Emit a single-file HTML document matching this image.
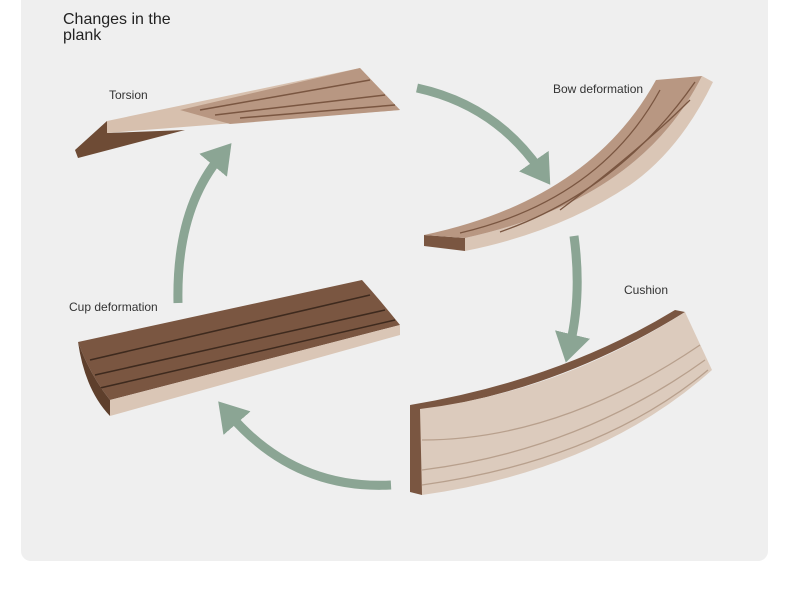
<!DOCTYPE html>
<html><head><style>
body{margin:0;background:#fff;width:790px;height:589px;overflow:hidden;font-family:"Liberation Sans",sans-serif}
.panel{position:absolute;left:21px;top:-10px;width:747px;height:571px;background:#efefef;border-radius:10px}
.t{position:absolute;color:#333;font-size:12px}
</style></head><body>
<div class="panel"></div>
<div class="t" style="left:63px;top:12px;font-size:16px;line-height:16px;color:#222">Changes in the<br>plank</div>
<div class="t" style="left:109px;top:88px">Torsion</div>
<div class="t" style="left:553px;top:82px">Bow deformation</div>
<div class="t" style="left:624px;top:283px">Cushion</div>
<div class="t" style="left:69px;top:300px">Cup deformation</div>
<svg width="790" height="589" style="position:absolute;left:0;top:0">
<defs><marker id="h" markerWidth="4" markerHeight="4" refX="1.2" refY="2" orient="auto" markerUnits="strokeWidth"><path d="M0,0 L3.2,2 L0,4Z" fill="#8ba594"/></marker></defs>
<g fill="none" stroke="#8ba594" stroke-width="9" marker-end="url(#h)">
<path d="M417,88 Q495,105 540,170"/>
<path d="M574,236 Q582,295 570,345"/>
<path d="M391,485 Q295,490 230,415"/>
<path d="M178,303 Q176,210 220,157"/>
</g>
<path d="M75,150 L107,121 L107,133 L185,130 L78,158Z" fill="#6e4b35"/>
<path d="M107,121 L360,68 L400,110 L107,133Z" fill="#d7c0ae"/>
<path d="M180,110 L360,68 L400,110 L230,124Z" fill="#b89782"/>
<g stroke="#7a5641" stroke-width="1.5" fill="none"><path d="M200,110 L370,80"/><path d="M215,115 L385,95"/><path d="M240,118 L395,105"/></g>
<path d="M424,235 L465,238 L465,251 L424,246Z" fill="#7a5641"/>
<path d="M465,238 Q640,200 702,76 L713,82 Q680,150 630,185 Q560,232 465,251Z" fill="#dac6b6"/>
<path d="M424,235 Q590,200 656,80 L702,76 Q640,200 465,238Z" fill="#b89782"/>
<g stroke="#7a5641" stroke-width="1.3" fill="none"><path d="M460,233 Q600,200 660,90"/><path d="M500,232 Q620,190 695,82"/><path d="M560,210 Q640,150 690,100"/></g>
<path d="M410,405 L422,407 L422,495 L410,492Z" fill="#7a5641"/>
<path d="M410,405 Q560,380 675,310 L685,312 Q560,390 420,410Z" fill="#7a5641"/>
<path d="M420,409 Q560,392 685,312 L712,370 Q600,470 422,495Z" fill="#dccbbd"/>
<g stroke="#b8a08d" stroke-width="1.3" fill="none"><path d="M422,440 Q560,440 700,345"/><path d="M422,470 Q580,450 705,360"/><path d="M422,485 Q600,460 708,370"/></g>
<path d="M78,342 L362,280 Q380,300 400,325 L110,400 Q90,375 78,342Z" fill="#7a5641"/>
<g stroke="#3e2a1e" stroke-width="1.5" fill="none"><path d="M90,360 L370,295"/><path d="M95,375 L385,310"/><path d="M100,388 L395,320"/></g>
<path d="M110,400 L400,325 L400,335 L110,416Z" fill="#dac6b6"/>
<path d="M78,342 Q90,375 110,400 L110,416 Q85,390 78,342Z" fill="#5e3f2c"/>
</svg>
</body></html>
